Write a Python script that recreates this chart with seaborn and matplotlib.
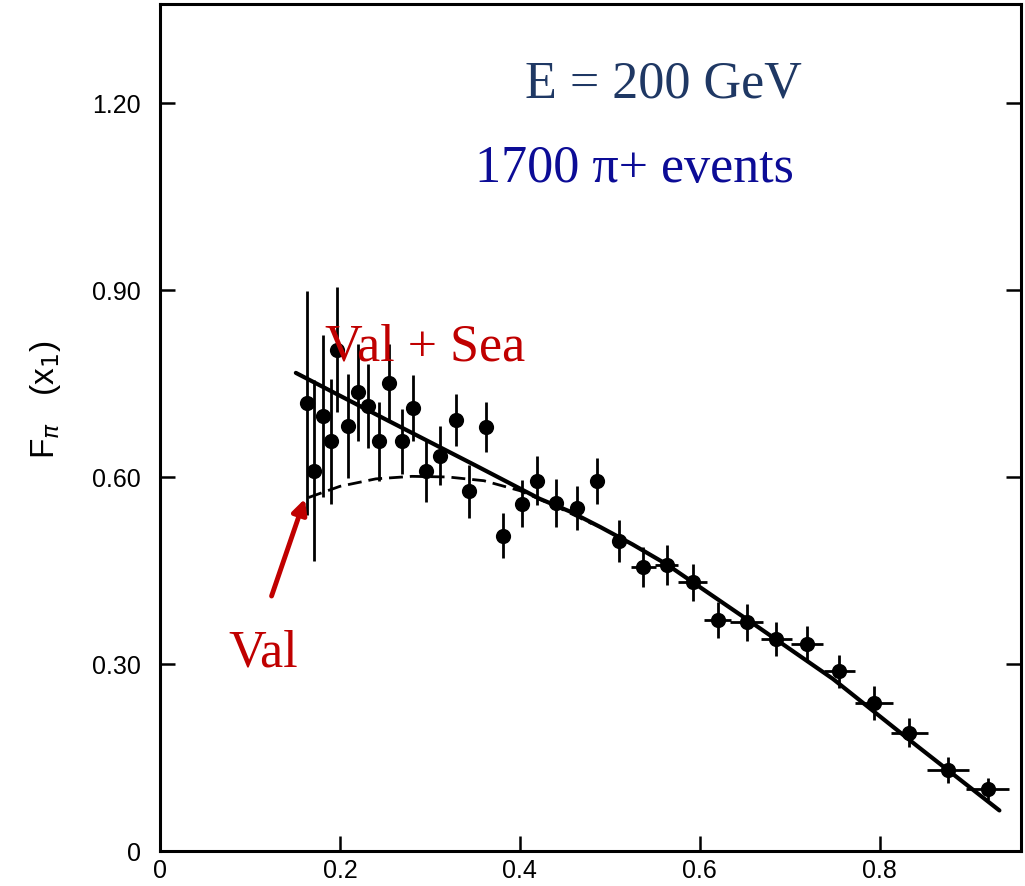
import numpy as np
import pandas as pd
import matplotlib
matplotlib.use('Agg')
import matplotlib.pyplot as plt
import seaborn as sns

# Measured points (x1, F_pi) with errors
x_pts = [0.163, 0.171, 0.181, 0.190, 0.197, 0.209, 0.220, 0.231, 0.243, 0.254, 0.269, 0.281,
         0.296, 0.311, 0.329, 0.343, 0.362, 0.381, 0.402, 0.419, 0.440, 0.463, 0.486, 0.510,
         0.537, 0.563, 0.592, 0.620, 0.652, 0.685, 0.719, 0.755, 0.794, 0.833, 0.876, 0.920]
y_pts = [0.719, 0.610, 0.698, 0.657, 0.804, 0.682, 0.736, 0.714, 0.657, 0.751, 0.657, 0.711,
         0.610, 0.634, 0.691, 0.577, 0.680, 0.506, 0.557, 0.594, 0.558, 0.550, 0.594, 0.497,
         0.455, 0.459, 0.431, 0.371, 0.367, 0.340, 0.332, 0.288, 0.237, 0.190, 0.130, 0.099]
y_err = [0.180, 0.145, 0.130, 0.100, 0.100, 0.083, 0.078, 0.068, 0.063, 0.063, 0.052, 0.053,
         0.050, 0.047, 0.042, 0.043, 0.040, 0.036, 0.038, 0.039, 0.038, 0.035, 0.037, 0.034,
         0.032, 0.032, 0.030, 0.029, 0.030, 0.028, 0.029, 0.027, 0.027, 0.023, 0.021, 0.018]
x_err = [0] * 24 + [0.014, 0.013, 0.016, 0.015, 0.018, 0.017, 0.018, 0.017, 0.021, 0.021, 0.023, 0.024]

# Fit curves: valence + sea (solid) and valence only (dashed)
fit_x = [0.151, 0.25, 0.35, 0.422, 0.455, 0.489, 0.525, 0.563, 0.652, 0.748, 0.841, 0.933]
fit_y = [0.767, 0.693, 0.619, 0.565, 0.545, 0.520, 0.492, 0.460, 0.372, 0.276, 0.169, 0.065]
val_x = [0.165, 0.20, 0.24, 0.28, 0.32, 0.36, 0.40, 0.44, 0.48]
val_y = [0.567, 0.585, 0.597, 0.601, 0.600, 0.594, 0.578, 0.553, 0.525]

x_ticks = [0, 0.2, 0.4, 0.6, 0.8]
x_labels = ['0', '0.2', '0.4', '0.6', '0.8']
y_ticks = [0, 0.30, 0.60, 0.90, 1.20]
y_labels = ['0', '0.30', '0.60', '0.90', '1.20']

pts_df = pd.DataFrame({'x': x_pts, 'y': y_pts})
fit_df = pd.DataFrame({'x': fit_x, 'y': fit_y})
val_df = pd.DataFrame({'x': val_x, 'y': val_y})

sns.set_style('white')
sans = ['Liberation Sans', 'DejaVu Sans']

fig = plt.figure(figsize=(10.25, 8.87), dpi=100)
ax = fig.add_axes([0.1561, 0.0395, 0.840, 0.955])

ax.errorbar(x_pts, y_pts, yerr=y_err, xerr=x_err, fmt='none', ecolor='black',
            elinewidth=2.0, capsize=0, zorder=2)
sns.scatterplot(data=pts_df, x='x', y='y', ax=ax, color='black', s=120,
                edgecolor='black', linewidth=0, zorder=3)
sns.lineplot(data=fit_df, x='x', y='y', ax=ax, color='black', linewidth=3.0,
             sort=False, zorder=4)
sns.lineplot(data=val_df, x='x', y='y', ax=ax, color='black', linewidth=2.0,
             sort=False, zorder=4, linestyle=(0, (5, 2.5)))

ax.set_xlim(0, 0.957)
ax.set_ylim(0, 1.359)
ax.set_xticks(x_ticks)
ax.set_xticklabels(x_labels, family=sans, fontsize=18, color='black')
ax.set_yticks(y_ticks)
ax.set_yticklabels(y_labels, family=sans, fontsize=18, color='black')
ax.set_xlabel('')
ax.set_ylabel(r'F$_\pi$   (x$_1$)', fontsize=24, family=sans, color='black')
ax.yaxis.set_label_coords(-0.113, 0.534)

ax.tick_params(axis='both', direction='in', length=11, width=1.8, color='black')
ax.tick_params(axis='y', pad=14, right=True, left=True)
ax.tick_params(axis='x', pad=5, bottom=True)

for sp in ax.spines.values():
    sp.set_color('black')
    sp.set_linewidth(2.2)

# Annotations
serif = ['Liberation Serif', 'DejaVu Serif']
ax.text(0.406, 1.211, 'E = 200 GeV', color='#1F3864', fontsize=37.5,
        family=serif, va='baseline', ha='left')
ax.text(0.35, 1.075, '1700 π+ events', color='#0C0C96', fontsize=37.5,
        family=serif, va='baseline', ha='left')
ax.text(0.183, 0.789, 'Val + Sea', color='#C00000', fontsize=37.5,
        family=serif, va='baseline', ha='left')
ax.text(0.0756, 0.297, 'Val', color='#C00000', fontsize=37.5,
        family=serif, va='baseline', ha='left')
ax.annotate('', xy=(0.161, 0.565), xytext=(0.124, 0.409),
            arrowprops=dict(arrowstyle='-|>', color='#C00000', lw=3.5,
                            mutation_scale=22, shrinkA=0, shrinkB=0))

fig.savefig('out.png', dpi=100)
